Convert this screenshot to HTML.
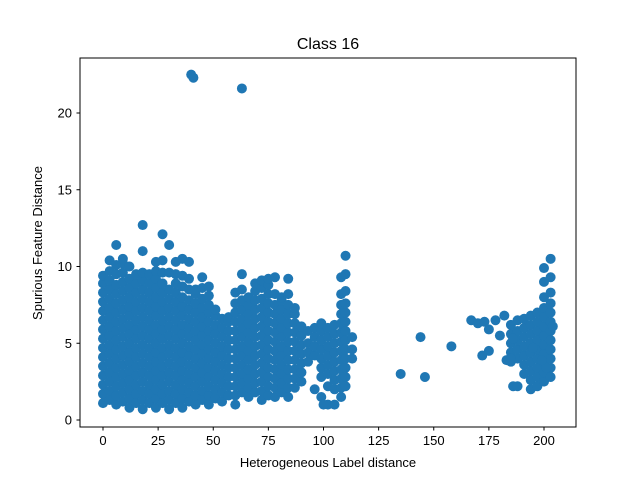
<!DOCTYPE html>
<html><head><meta charset="utf-8"><style>
body{margin:0;background:#fff;}
svg{display:block;font-family:"Liberation Sans","DejaVu Sans",sans-serif;}
</style></head><body>
<svg id="chart" width="640" height="480" viewBox="0 0 640 480">
<rect width="640" height="480" fill="#fff"/>
<text x="328" y="49" text-anchor="middle" font-size="16">Class 16</text>
<g id="points"></g>
<rect x="80" y="58" width="496" height="369" fill="none" stroke="#000" stroke-width="1"/>
<g id="xticks"></g>
<g id="yticks"></g>
<text x="328" y="467" text-anchor="middle" font-size="13">Heterogeneous Label distance</text>
<text transform="translate(42,243) rotate(-90)" text-anchor="middle" font-size="13">Spurious Feature Distance</text>
</svg>
<script>
const xTicks=[0,25,50,75,100,125,150,175,200];
const yTicks=[0,5,10,15,20];
const colX=[0,3,6,9,12,15,18,21,24,27,30,33,36,39,42,45,48,51,54,57,60,63,66,69,72,75,78,81,84,87,90,93,96,99,102,105,108,110,113,185,188,191,194,197,200,203];
const colYs=[
[1.1,1.7,2.3,2.9,3.5,4.1,4.7,5.3,5.9,6.5,7.1,7.7,8.3,8.9,9.4],
[1.3,1.9,2.5,3.1,3.7,4.3,4.9,5.5,6.1,6.7,7.3,7.9,8.5,9.1,9.7,10.4],
[1.0,1.6,2.2,2.8,3.4,4.0,4.6,5.2,5.8,6.4,7.0,7.6,8.2,8.8,9.5,10.1,11.4],
[1.2,1.8,2.4,3.0,3.6,4.2,4.8,5.4,6.0,6.6,7.2,7.8,8.4,9.0,9.6,10.2,10.5],
[0.8,1.4,2.0,2.6,3.2,3.8,4.4,5.0,5.6,6.2,6.8,7.4,8.0,8.6,9.2,10.0],
[1.1,1.7,2.3,2.9,3.5,4.1,4.7,5.3,5.9,6.5,7.1,7.7,8.3,8.9,9.5],
[0.7,1.3,1.9,2.5,3.1,3.7,4.3,4.9,5.5,6.1,6.7,7.3,7.9,8.5,9.1,9.6,11.0,12.7],
[1.1,1.7,2.3,2.9,3.5,4.1,4.7,5.3,5.9,6.5,7.1,7.7,8.3,8.9,9.5],
[0.8,1.4,2.0,2.6,3.2,3.8,4.4,5.0,5.6,6.2,6.8,7.4,8.0,8.6,9.2,9.7,10.3],
[1.1,1.7,2.3,2.9,3.5,4.1,4.7,5.3,5.9,6.5,7.1,7.7,8.3,8.9,9.6,10.4,12.1],
[0.7,1.3,1.9,2.5,3.1,3.7,4.3,4.9,5.5,6.1,6.7,7.3,7.9,8.5,9.6,11.4],
[1.1,1.7,2.3,2.9,3.5,4.1,4.7,5.3,5.9,6.5,7.1,7.7,8.3,8.9,9.5,10.3],
[0.8,1.4,2.0,2.6,3.2,3.8,4.4,5.0,5.6,6.2,6.8,7.4,8.0,8.7,9.4,10.5],
[1.2,1.8,2.4,3.0,3.6,4.2,4.8,5.4,6.0,6.6,7.2,7.8,8.5,9.2,10.3],
[1.0,1.6,2.2,2.8,3.4,4.0,4.6,5.2,5.8,6.4,7.0,7.6,8.2,8.5],
[1.3,1.9,2.5,3.1,3.7,4.3,4.9,5.5,6.1,6.7,7.3,7.9,8.6,9.3],
[1.0,1.6,2.2,2.8,3.4,4.0,4.6,5.2,5.8,6.4,7.0,7.5,8.1,8.7],
[1.4,2.0,2.6,3.2,3.8,4.4,5.0,5.6,6.2,6.8,7.2],
[1.2,1.8,2.4,3.0,3.6,4.2,4.8,5.4,6.0,6.6],
[1.6,2.2,2.8,3.4,4.0,4.6,5.2,5.8,6.4,6.7],
[1.0,1.6,2.2,2.8,3.4,4.0,4.6,5.2,5.8,6.4,7.0,7.6,8.3],
[1.8,2.4,3.0,3.6,4.2,4.8,5.4,6.0,6.6,7.2,7.8,8.5,9.5],
[1.5,2.1,2.7,3.3,3.9,4.5,5.1,5.7,6.3,6.9,7.5,8.0],
[1.8,2.4,3.0,3.6,4.2,4.8,5.4,6.0,6.6,7.2,7.8,8.4,8.9],
[1.3,1.9,2.5,3.1,3.7,4.3,4.9,5.5,6.1,6.7,7.3,7.9,8.6,9.1],
[1.6,2.2,2.8,3.4,4.0,4.6,5.2,5.8,6.4,7.0,7.6,8.2,8.8,9.2],
[1.5,2.1,2.7,3.3,3.9,4.5,5.1,5.7,6.3,6.9,7.5,8.2,9.3],
[1.8,2.4,3.0,3.6,4.2,4.8,5.4,6.0,6.6,7.2,7.8,8.0],
[1.5,2.1,2.7,3.3,3.9,4.5,5.1,5.7,6.3,6.9,7.5,8.2,9.2],
[2.1,2.7,3.3,3.9,4.5,5.1,5.7,6.3,6.9,7.3],
[2.5,3.1,3.7,4.3,4.9,5.5,6.1],
[3.8,4.4,5.0,5.8],
[2.0,4.2,4.8,5.4,6.0],
[1.5,2.8,3.4,4.0,4.6,5.2,5.8,6.3],
[1.0,2.2,3.0,3.6,4.2,4.8,5.4,6.0],
[1.0,2.0,2.6,3.2,3.8,4.4,5.0,5.6,6.2],
[1.5,2.1,2.7,3.3,3.9,4.5,5.1,5.7,6.3,6.9,7.5,8.2,9.3],
[2.2,2.8,3.4,4.0,4.6,5.2,5.8,6.4,7.0,7.6,8.4,9.5,10.7],
[4.0,4.6,5.4],
[3.8,4.4,5.0,5.6,6.2],
[4.0,4.6,5.2,5.8,6.5],
[3.0,3.6,4.2,4.8,5.4,6.0,6.6],
[2.0,2.6,3.2,3.8,4.4,5.0,5.6,6.2,6.8],
[2.2,2.8,3.4,4.0,4.6,5.2,5.8,6.4,7.0],
[2.5,3.1,3.7,4.3,4.9,5.5,6.1,6.7,7.3,8.0,9.0,9.9],
[2.8,3.4,4.0,4.6,5.2,5.8,6.4,7.0,7.6,8.3,9.3,10.5]
];
const extraX=[40,41,63,135,144,146,158,100,167,170,173,175,178,180,182,183,185,186,188,175,172,201,204,186,195,199];
const extraY=[22.5,22.3,21.6,3.0,5.4,2.8,4.8,1.0,6.5,6.3,6.4,5.9,6.5,5.5,6.8,3.9,4.0,2.2,2.2,4.5,4.2,3.4,6.1,5.3,4.7,3.9];

const NS="http://www.w3.org/2000/svg";
function sx(v){return 103+v*(544-103)/200;}
function sy(v){return 420-v*(420-113)/20;}
const pg=document.getElementById('points');
function dot(x,y){
  const c=document.createElementNS(NS,'circle');
  c.setAttribute('cx',sx(x));c.setAttribute('cy',sy(y));c.setAttribute('r',5);
  c.setAttribute('fill','#1f77b4');
  
  
  pg.appendChild(c);
}
colX.forEach((x,i)=>colYs[i].forEach(y=>dot(x,y)));
extraX.forEach((x,i)=>dot(x,extraY[i]));

const xg=document.getElementById('xticks');
xTicks.forEach(t=>{
  const l=document.createElementNS(NS,'line');
  l.setAttribute('x1',sx(t));l.setAttribute('x2',sx(t));l.setAttribute('y1',427);l.setAttribute('y2',430.5);
  l.setAttribute('stroke','#000');
  
  
  xg.appendChild(l);
  const tx=document.createElementNS(NS,'text');
  tx.setAttribute('x',sx(t));tx.setAttribute('y',445);tx.setAttribute('text-anchor','middle');tx.setAttribute('font-size','13');
  tx.textContent=t;
  
  
  xg.appendChild(tx);
});
const yg=document.getElementById('yticks');
yTicks.forEach(t=>{
  const l=document.createElementNS(NS,'line');
  l.setAttribute('x1',76.5);l.setAttribute('x2',80);l.setAttribute('y1',sy(t));l.setAttribute('y2',sy(t));
  l.setAttribute('stroke','#000');
  
  
  yg.appendChild(l);
  const tx=document.createElementNS(NS,'text');
  tx.setAttribute('x',72);tx.setAttribute('y',sy(t)+4.5);tx.setAttribute('text-anchor','end');tx.setAttribute('font-size','13');
  tx.textContent=t;
  
  
  yg.appendChild(tx);
});
</script>
</body></html>
